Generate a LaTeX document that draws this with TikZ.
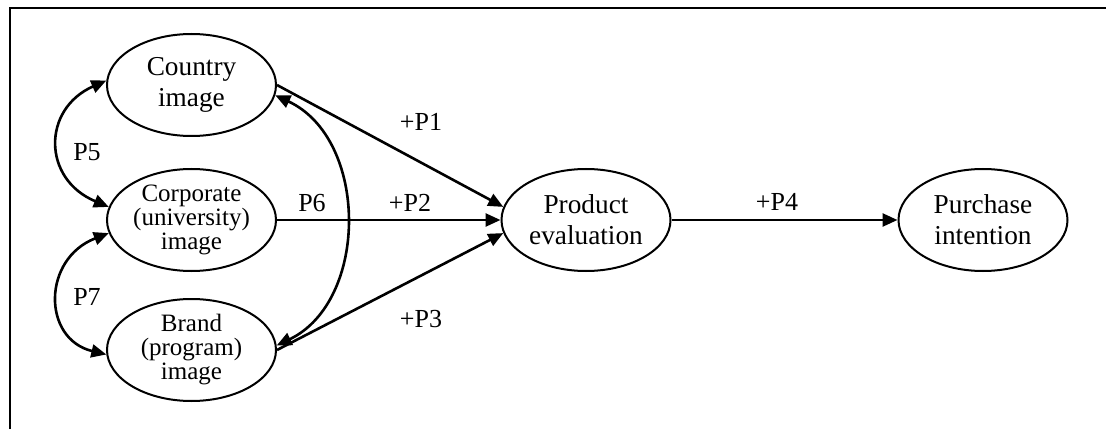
\documentclass[tikz,border=0pt]{standalone}
\usepackage{fontspec}
\setmainfont{Liberation Serif}
\usetikzlibrary{arrows.meta,shapes.geometric}
\begin{document}
\begin{tikzpicture}[x=1pt,y=1pt,
  oval/.style={ellipse, draw, line width=2pt, minimum width=169pt, minimum height=102pt, inner sep=0pt, align=center, font=\fontsize{27.3}{31}\selectfont},
  ovalsmall/.style={oval, font=\fontsize{25}{24}\selectfont},
  conn/.style={line width=2.6pt, -{Triangle[length=15pt,width=13pt]}},
  dconn/.style={line width=2.6pt, {Triangle[length=15pt,width=13pt]}-{Triangle[length=15pt,width=13pt]}},
  lbl/.style={font=\fontsize{26}{31}\selectfont, inner sep=0pt}]
\useasboundingbox (0,0) rectangle (1106,429);
\coordinate (fa) at (10,0);
\coordinate (fb) at (10,421);
\coordinate (fc) at (1106,421);
\draw[line width=2pt] (fa) -- (fb) -- (fc);

\node[oval] (country) at (191.5,344) {Country\\image};
\node[ovalsmall] (corporate) at (191.5,209) {Corporate\\(university)\\image};
\node[ovalsmall] (brand) at (191.5,79) {Brand\\(program)\\image};
\node[oval] (product) at (586,209) {Product\\evaluation};
\node[oval] (purchase) at (983,209) {Purchase\\intention};

\draw[conn] (country.east) -- (product.171);
\draw[conn] (corporate.east) -- (product.west);
\draw[conn] (brand.east) -- (product.189);
\draw[conn] (product.east) -- (purchase.west);

\draw[dconn] (country.177) .. controls (42,320) and (42,250) .. (corporate.171);
\draw[dconn] (corporate.189) .. controls (42,170) and (42,90) .. (brand.183);
\draw[dconn] (country.-7) .. controls (369,290) and (369,128) .. (brand.3);

\node[lbl] (p5) at (87,277) {P5};
\node[lbl] (p7) at (87,132) {P7};
\node[lbl] (p6) at (312,226) {P6};
\node[lbl] (p1) at (421,307) {+P1};
\node[lbl] (p2) at (410,226) {+P2};
\node[lbl] (p3) at (421,110) {+P3};
\node[lbl] (p4) at (777,227) {+P4};
\end{tikzpicture}
\end{document}
